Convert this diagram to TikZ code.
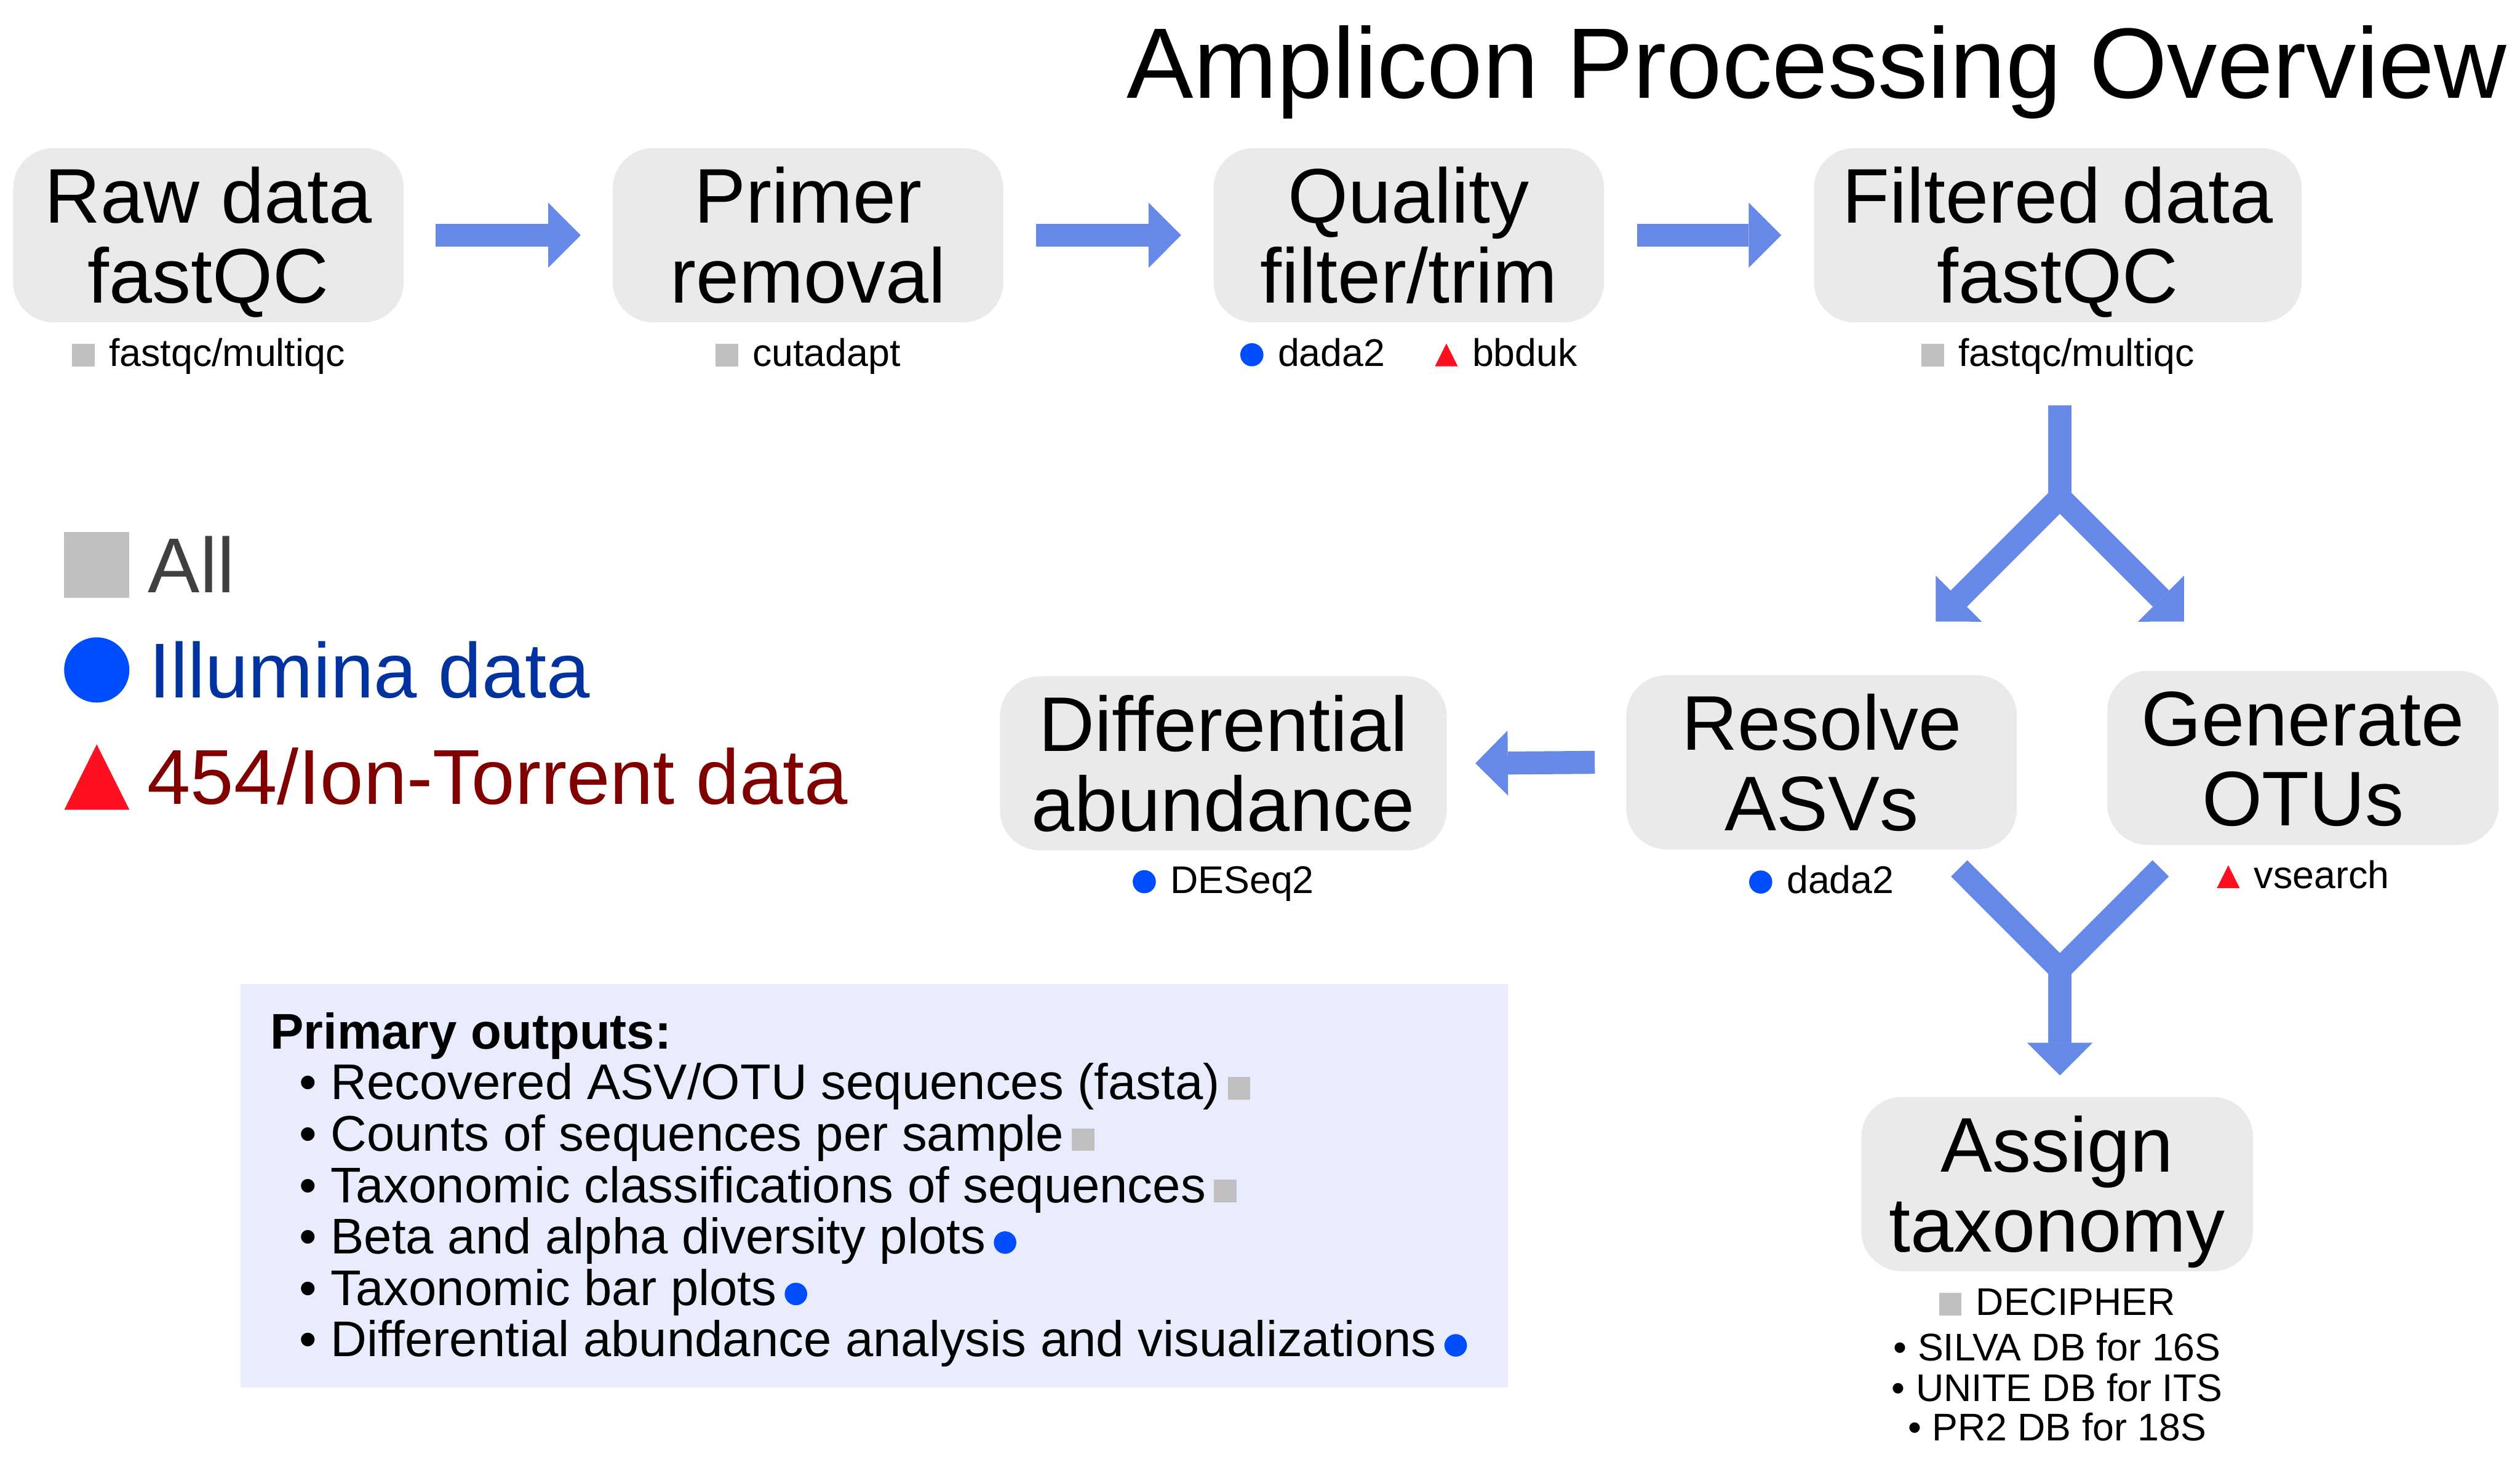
\documentclass[tikz,border=0pt]{standalone}
\usepackage{fontspec}
\setmainfont{Liberation Sans}
\usetikzlibrary{arrows.meta}
\definecolor{boxgray}{RGB}{234,234,234}
\definecolor{arrowblue}{RGB}{102,136,230}
\definecolor{outbox}{RGB}{232,236,252}
\definecolor{mkgray}{RGB}{192,192,192}
\definecolor{mkblue}{RGB}{0,76,255}
\definecolor{mkred}{RGB}{255,16,32}
\definecolor{illtxt}{RGB}{0,51,160}
\definecolor{iontxt}{RGB}{128,0,0}
\definecolor{alltxt}{RGB}{64,64,64}
\newcommand\msq{\textcolor{mkgray}{\rule{14pt}{14pt}}}
\newcommand\mci{\tikz[baseline=0pt]\fill[mkblue](7.2pt,7.2pt) circle[radius=7.2pt];}
\newcommand\mtr{\tikz[baseline=0pt]\fill[mkred](0pt,0pt)--(14.2pt,0pt)--(7.1pt,14.2pt)--cycle;}
\newcommand\pstep[6]{%
  \node[pbox, minimum width=#4pt] (#1) at (#2,#3) {};
  \node[btxt] (#1-a) at ([yshift=7.5pt]#1.center) {#5};
  \node[btxt] (#1-b) at ([yshift=-42.3pt]#1.center) {#6};
}
\begin{document}
\begin{tikzpicture}[x=1pt,y=-1pt,
  pbox/.style={fill=boxgray, rounded corners=25pt, minimum height=108.4pt, inner sep=0pt},
  btxt/.style={anchor=base, inner sep=0pt, font=\fontsize{48.2}{50}\selectfont},
  lbl/.style={anchor=base, inner sep=0pt, font=\fontsize{24}{25}\selectfont},
  otxt/.style={anchor=base west, inner sep=0pt, font=\fontsize{31.2}{32}\selectfont},
  legtxt/.style={anchor=base west, inner sep=0pt, font=\fontsize{48.4}{50}\selectfont},
  flow/.style={draw=arrowblue, line width=14.3pt, line join=miter,
    -{Triangle[length=20.2pt,width=40.5pt,line width=0pt]}}]
\useasboundingbox (0,0) rectangle (1568,911.6);

% title
\node[anchor=base west, inner sep=0pt, font=\fontsize{62.3}{62}\selectfont] (title) at (701,61.2) {Amplicon Processing Overview};

% process boxes
\pstep{raw}{129.7}{146.4}{243}{Raw data}{fastQC}
\pstep{primer}{502.8}{146.4}{243}{Primer}{removal}
\pstep{qual}{876.6}{146.4}{243}{Quality}{filter/trim}
\pstep{filt}{1280.4}{146.4}{303.4}{Filtered data}{fastQC}
\pstep{diff}{761.2}{475.1}{278}{Differential}{abundance}
\pstep{resolve}{1133.4}{474.5}{243}{Resolve}{ASVs}
\pstep{gen}{1433}{471.7}{243.5}{Generate}{OTUs}
\pstep{assign}{1280}{737}{243.7}{Assign}{taxonomy}

% tool labels
\node[lbl] (raw-l) at ([yshift=-27.2pt]raw.south) {\msq\hspace{9pt}fastqc/multiqc};
\node[lbl] (primer-l) at ([yshift=-27.2pt]primer.south) {\msq\hspace{9pt}cutadapt};
\node[lbl] (qual-l) at ([yshift=-27.2pt]qual.south) {\mci\hspace{9pt}dada2\hspace{31pt}\mtr\hspace{9pt}bbduk};
\node[lbl] (filt-l) at ([yshift=-27.2pt]filt.south) {\msq\hspace{9pt}fastqc/multiqc};
\node[lbl] (diff-l) at ([yshift=-26.5pt]diff.south) {\mci\hspace{9pt}DESeq2};
\node[lbl] (resolve-l) at ([yshift=-27.3pt]resolve.south) {\mci\hspace{9pt}dada2};
\node[lbl] (gen-l) at ([yshift=-26.7pt]gen.south) {\mtr\hspace{9pt}vsearch};
\node[lbl] (assign-l) at ([yshift=-27.4pt]assign.south) {\msq\hspace{9pt}DECIPHER};
\node[lbl] (db1) at ([yshift=-55.4pt]assign.south) {• SILVA DB for 16S};
\node[lbl] (db2) at ([yshift=-80.7pt]assign.south) {• UNITE DB for ITS};
\node[lbl] (db3) at ([yshift=-105.2pt]assign.south) {• PR2 DB for 18S};

% connectors
\draw[flow] ([xshift=19.5pt]raw.east) -- ([xshift=-19.8pt]primer.west);
\draw[flow] ([xshift=20pt]primer.east) -- ([xshift=-20pt]qual.west);
\draw[flow] ([xshift=20.3pt]qual.east) -- ([xshift=-20.2pt]filt.west);
\draw[flow] ([xshift=-19.4pt]resolve.west) -- ([xshift=17.6pt]diff.east);

\coordinate (s0) at (1281.7,252.4);
\coordinate (s1) at (1281.7,309.7);
\coordinate (sL) at (1204.5,386.9);
\coordinate (sR) at (1358.9,386.9);
\draw[flow] (s0) -- (s1) -- (sL);
\draw[flow] (s0) -- (s1) -- (sR);

\coordinate (m1) at (1219,540.5);
\coordinate (m2) at (1344.4,540.5);
\coordinate (mj) at (1281.7,603.3);
\coordinate (mt) at (1281.7,669.3);
\draw[flow] (m1) -- (mj) -- (mt);
\draw[flow] (m2) -- (mj) -- (mt);

% legend
\fill[mkgray] (40,331.3) rectangle (80.5,372);
\fill[mkblue] (60.2,417) circle[radius=20.3];
\fill[mkred] (40,504) -- (80.5,504) -- (60.2,463.3) -- cycle;
\node[legtxt, text=alltxt] (leg1) at (92,368.8) {All};
\node[legtxt, text=illtxt] (leg2) at (92.5,434.2) {Illumina data};
\node[legtxt, text=iontxt] (leg3) at (91.5,500.7) {454/Ion-Torrent data};

% primary outputs
\node[fill=outbox, minimum width=788.5pt, minimum height=250.9pt, anchor=north west, inner sep=0pt] (outs) at (149.5,612.4) {};
\node[otxt] (o0) at (168,653) {\bfseries Primary outputs:};
\node[otxt] (o1) at (186,684.4) {• Recovered ASV/OTU sequences (fasta)\hspace{5pt}\textcolor{mkgray}{\rule{14pt}{14pt}}};
\node[otxt] (o2) at (186,716.4) {• Counts of sequences per sample\hspace{5pt}\textcolor{mkgray}{\rule{14pt}{14pt}}};
\node[otxt] (o3) at (186,748.4) {• Taxonomic classifications of sequences\hspace{5pt}\textcolor{mkgray}{\rule{14pt}{14pt}}};
\node[otxt] (o4) at (186,780.4) {• Beta and alpha diversity plots\hspace{5pt}\tikz[baseline=0pt]\fill[mkblue](7pt,7pt) circle[radius=7pt];};
\node[otxt] (o5) at (186,812.4) {• Taxonomic bar plots\hspace{5pt}\tikz[baseline=0pt]\fill[mkblue](7pt,7pt) circle[radius=7pt];};
\node[otxt] (o6) at (186,844.4) {• Differential abundance analysis and visualizations\hspace{5pt}\tikz[baseline=0pt]\fill[mkblue](7pt,7pt) circle[radius=7pt];};
\end{tikzpicture}
\end{document}
